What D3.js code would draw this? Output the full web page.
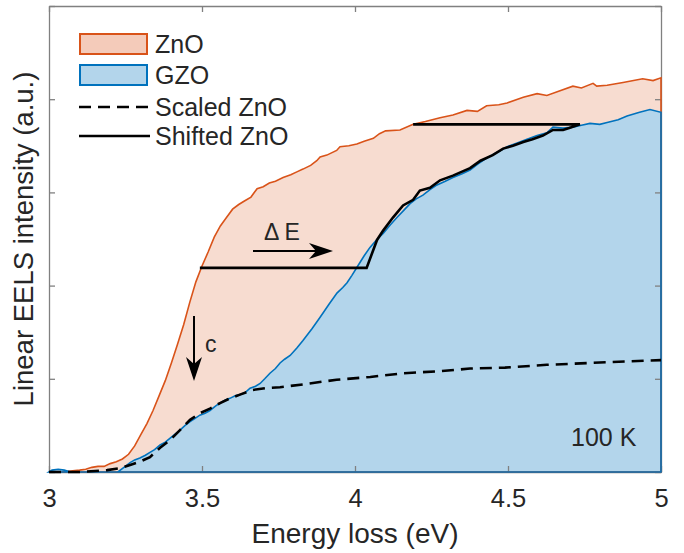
<!DOCTYPE html>
<html>
<head>
<meta charset="utf-8">
<script src="https://cdn.jsdelivr.net/npm/d3@7"></script>
<style>
  body { margin: 0; background: #fff; }
  text { font-family: "Liberation Sans", Arial, Helvetica, sans-serif; fill: #262626; }
</style>
</head>
<body>
<div id="chart"></div>
<script>

// Chart data
// ==============================
var xTicks = [3, 3.5, 4, 4.5, 5];
var yTicks = [0, 1, 2, 3, 4, 5];

var legendNames = ["ZnO", "GZO", "Scaled ZnO", "Shifted ZnO"];

// [energy (eV), intensity (a.u.)]
var znoData = [
  [3.00, 0.00], [3.04, 0.00], [3.07, 0.01], [3.10, 0.02], [3.12, 0.03], [3.14, 0.05],
  [3.16, 0.06], [3.18, 0.06], [3.20, 0.09], [3.22, 0.11], [3.24, 0.14], [3.26, 0.19],
  [3.28, 0.28], [3.30, 0.40], [3.32, 0.52], [3.34, 0.66], [3.36, 0.82], [3.38, 0.98],
  [3.40, 1.17], [3.42, 1.37], [3.44, 1.58], [3.46, 1.82], [3.48, 2.04], [3.50, 2.21],
  [3.52, 2.36], [3.54, 2.52], [3.56, 2.64], [3.58, 2.73], [3.60, 2.82], [3.62, 2.87],
  [3.64, 2.91], [3.66, 2.95], [3.68, 3.04], [3.70, 3.06], [3.72, 3.10], [3.74, 3.12],
  [3.765, 3.16], [3.79, 3.19], [3.81, 3.22], [3.83, 3.25], [3.855, 3.29], [3.875, 3.34],
  [3.886, 3.38], [3.908, 3.40], [3.94, 3.45], [3.951, 3.49], [3.98, 3.50], [4.006, 3.52],
  [4.03, 3.55], [4.06, 3.58], [4.08, 3.63], [4.10, 3.66], [4.147, 3.67], [4.19, 3.73],
  [4.23, 3.76], [4.278, 3.80], [4.32, 3.83], [4.366, 3.88], [4.40, 3.87], [4.43, 3.93],
  [4.47, 3.94], [4.497, 3.96], [4.55, 4.02], [4.595, 4.06], [4.627, 4.04], [4.67, 4.09],
  [4.712, 4.14], [4.74, 4.12], [4.778, 4.17], [4.79, 4.14], [4.824, 4.15], [4.876, 4.18],
  [4.94, 4.22], [4.974, 4.20], [5.00, 4.23]
];

var gzoData = [
  [3.00, 0.00], [3.01, 0.02], [3.03, 0.03], [3.05, 0.02], [3.07, 0.00], [3.10, 0.00],
  [3.15, 0.00], [3.20, 0.00], [3.225, 0.00], [3.245, 0.05], [3.265, 0.10], [3.28, 0.13],
  [3.297, 0.15], [3.315, 0.18], [3.33, 0.21], [3.345, 0.24], [3.363, 0.29], [3.38, 0.32],
  [3.395, 0.36], [3.41, 0.40], [3.428, 0.45], [3.445, 0.50], [3.461, 0.54], [3.475, 0.57],
  [3.493, 0.61], [3.51, 0.63], [3.526, 0.66], [3.545, 0.71], [3.559, 0.74], [3.575, 0.77],
  [3.591, 0.79], [3.61, 0.82], [3.624, 0.83], [3.64, 0.85], [3.657, 0.90], [3.675, 0.92],
  [3.69, 0.95], [3.705, 1.00], [3.722, 1.06], [3.74, 1.11], [3.755, 1.17], [3.77, 1.21],
  [3.788, 1.25], [3.81, 1.33], [3.83, 1.41], [3.86, 1.54], [3.886, 1.66], [3.915, 1.80],
  [3.941, 1.92], [3.96, 1.98], [3.974, 2.03], [3.99, 2.11], [4.007, 2.20], [4.03, 2.32],
  [4.049, 2.41], [4.07, 2.49], [4.092, 2.56], [4.115, 2.65], [4.137, 2.73], [4.16, 2.81],
  [4.18, 2.88], [4.20, 2.93], [4.222, 2.97], [4.245, 3.03], [4.268, 3.08], [4.295, 3.12],
  [4.32, 3.16], [4.35, 3.20], [4.376, 3.24], [4.40, 3.30], [4.431, 3.37], [4.465, 3.43],
  [4.497, 3.49], [4.53, 3.53], [4.562, 3.57], [4.595, 3.61], [4.627, 3.64], [4.647, 3.70],
  [4.68, 3.69], [4.712, 3.70], [4.74, 3.72], [4.768, 3.74], [4.80, 3.73], [4.824, 3.75],
  [4.86, 3.78], [4.889, 3.82], [4.93, 3.86], [4.964, 3.89], [5.00, 3.86]
];

var scaledData = [
  [3.00, 0.00], [3.10, 0.00], [3.15, 0.01], [3.19, 0.02], [3.232, 0.04], [3.265, 0.075],
  [3.297, 0.11], [3.33, 0.16], [3.363, 0.26], [3.395, 0.34], [3.428, 0.45], [3.461, 0.56],
  [3.493, 0.63], [3.526, 0.68], [3.559, 0.74], [3.591, 0.79], [3.624, 0.83], [3.665, 0.88],
  [3.71, 0.90], [3.755, 0.91], [3.83, 0.94], [3.94, 0.99], [4.05, 1.02], [4.16, 1.06],
  [4.27, 1.08], [4.376, 1.11], [4.49, 1.12], [4.627, 1.15], [4.84, 1.18], [5.00, 1.20]
];

var shiftedData = [
  [3.493, 2.19], [4.038, 2.19], [4.072, 2.49], [4.092, 2.59], [4.124, 2.73], [4.157, 2.86],
  [4.19, 2.92], [4.212, 3.02], [4.245, 3.05], [4.278, 3.13], [4.32, 3.18], [4.376, 3.26],
  [4.41, 3.34], [4.45, 3.40], [4.484, 3.47], [4.516, 3.50], [4.55, 3.54], [4.58, 3.57],
  [4.614, 3.61], [4.647, 3.67], [4.68, 3.67], [4.70, 3.69], [4.735, 3.73], [4.19, 3.73]
];

// Set chart parameters
// ==============================
var svgWidth = 684;
var svgHeight = 553;

var margin = { top: 6, right: 23, bottom: 81, left: 49 };
var width = svgWidth - margin.left - margin.right;
var height = svgHeight - margin.top - margin.bottom;

var orange = "#D95319";
var blue = "#0072BD";
var boxColor = "#808080";

var svg = d3.select("#chart")
  .append("svg")
  .attr("width", svgWidth)
  .attr("height", svgHeight);

var chartGroup = svg.append("g")
  .attr("transform", `translate(${margin.left}, ${margin.top})`);

// Scales
// ==============================
var xScale = d3.scaleLinear().domain([3, 5]).range([0, width]);
var yScale = d3.scaleLinear().domain([0, 5]).range([height, 0]);

var area = d3.area()
  .x(d => xScale(d[0]))
  .y0(yScale(0))
  .y1(d => yScale(d[1]));

var line = d3.line()
  .x(d => xScale(d[0]))
  .y(d => yScale(d[1]));

// Filled spectra
// ==============================
chartGroup.append("path")
  .datum(znoData)
  .attr("d", area)
  .attr("fill", "#f7dcd0");

chartGroup.append("path")
  .datum(gzoData)
  .attr("d", area)
  .attr("fill", "#b3d5eb");

// Axes (box with inward ticks)
// ==============================
function styleAxis(g) {
  g.selectAll("path.domain").attr("stroke", boxColor).attr("stroke-width", 1.3);
  g.selectAll(".tick line").attr("stroke", boxColor).attr("stroke-width", 1.3);
}

chartGroup.append("g")
  .attr("transform", `translate(0, ${height})`)
  .call(d3.axisBottom(xScale).tickValues(xTicks).tickSizeInner(-6).tickSizeOuter(0)
    .tickPadding(17).tickFormat(d3.format("")))
  .call(styleAxis)
  .call(g => g.selectAll("text")
    .attr("font-size", 25.5)
    .attr("fill", "#262626")
    .style("font-family", "'Liberation Sans', Arial, sans-serif"));

chartGroup.append("g")
  .call(d3.axisTop(xScale).tickValues(xTicks).tickSizeInner(-6).tickSizeOuter(0).tickFormat(""))
  .call(styleAxis);

chartGroup.append("g")
  .call(d3.axisLeft(yScale).tickValues(yTicks).tickSizeInner(-6).tickSizeOuter(0).tickFormat(""))
  .call(styleAxis);

chartGroup.append("g")
  .attr("transform", `translate(${width}, 0)`)
  .call(d3.axisRight(yScale).tickValues(yTicks).tickSizeInner(-6).tickSizeOuter(0).tickFormat(""))
  .call(styleAxis);

// Curve outlines
// ==============================
chartGroup.append("path")
  .datum(znoData)
  .attr("d", area)
  .attr("fill", "none")
  .attr("stroke", orange)
  .attr("stroke-width", 1.6);

chartGroup.append("path")
  .datum(gzoData)
  .attr("d", area)
  .attr("fill", "none")
  .attr("stroke", blue)
  .attr("stroke-width", 1.6);

chartGroup.append("path")
  .datum(scaledData)
  .attr("d", line)
  .attr("fill", "none")
  .attr("stroke", "#000")
  .attr("stroke-width", 2.6)
  .attr("stroke-dasharray", "12,7");

chartGroup.append("path")
  .datum(shiftedData)
  .attr("d", line)
  .attr("fill", "none")
  .attr("stroke", "#000")
  .attr("stroke-width", 2.6)
  .attr("stroke-linejoin", "miter");

// Arrows and annotations
// ==============================
function arrow(x1, y1, x2, y2) {
  var ang = Math.atan2(y2 - y1, x2 - x1);
  var len = 24, half = 8, notch = 7;
  var g = svg.append("g");
  var bx = x2 - len * Math.cos(ang), by = y2 - len * Math.sin(ang);
  g.append("line")
    .attr("x1", x1).attr("y1", y1)
    .attr("x2", bx + notch * Math.cos(ang)).attr("y2", by + notch * Math.sin(ang))
    .attr("stroke", "#000").attr("stroke-width", 2);
  var px = -Math.sin(ang), py = Math.cos(ang);
  var pts = [
    [x2, y2],
    [bx + half * px, by + half * py],
    [bx + notch * Math.cos(ang), by + notch * Math.sin(ang)],
    [bx - half * px, by - half * py]
  ];
  g.append("path")
    .attr("d", "M" + pts.map(p => p.join(",")).join("L") + "Z")
    .attr("fill", "#000");
}

arrow(194, 316, 194, 381);
arrow(253, 251, 333, 251);

svg.append("text")
  .attr("x", 205).attr("y", 352)
  .attr("font-size", 23)
  .text("c");

svg.append("text")
  .attr("x", 264).attr("y", 240)
  .attr("font-size", 23)
  .text("Δ E");

svg.append("text")
  .attr("x", 571).attr("y", 446)
  .attr("font-size", 25)
  .text("100 K");

// Axis labels
// ==============================
svg.append("text")
  .attr("transform", `translate(33, ${margin.top + height / 2}) rotate(-90)`)
  .attr("text-anchor", "middle")
  .attr("font-size", 27.5)
  .text("Linear EELS intensity (a.u.)");

svg.append("text")
  .attr("x", margin.left + width / 2)
  .attr("y", 543)
  .attr("text-anchor", "middle")
  .attr("font-size", 28)
  .text("Energy loss (eV)");

// Legend
// ==============================
var legend = svg.append("g");
var rowY = [44, 75, 107, 136];

legend.append("rect")
  .attr("x", 80).attr("y", 34).attr("width", 67).attr("height", 20)
  .attr("fill", "#f4cbba").attr("stroke", orange).attr("stroke-width", 2);

legend.append("rect")
  .attr("x", 80).attr("y", 65).attr("width", 67).attr("height", 20)
  .attr("fill", "#b3d5eb").attr("stroke", blue).attr("stroke-width", 2);

legend.append("line")
  .attr("x1", 79).attr("x2", 150).attr("y1", rowY[2]).attr("y2", rowY[2])
  .attr("stroke", "#000").attr("stroke-width", 2.6).attr("stroke-dasharray", "12,7");

legend.append("line")
  .attr("x1", 79).attr("x2", 150).attr("y1", rowY[3]).attr("y2", rowY[3])
  .attr("stroke", "#000").attr("stroke-width", 2.6);

legend.selectAll("text.leg")
  .data(legendNames)
  .enter()
  .append("text")
  .attr("class", "leg")
  .attr("x", 155)
  .attr("y", (d, i) => rowY[i] + 9)
  .attr("font-size", 25)
  .text(d => d);

</script>
</body>
</html>
